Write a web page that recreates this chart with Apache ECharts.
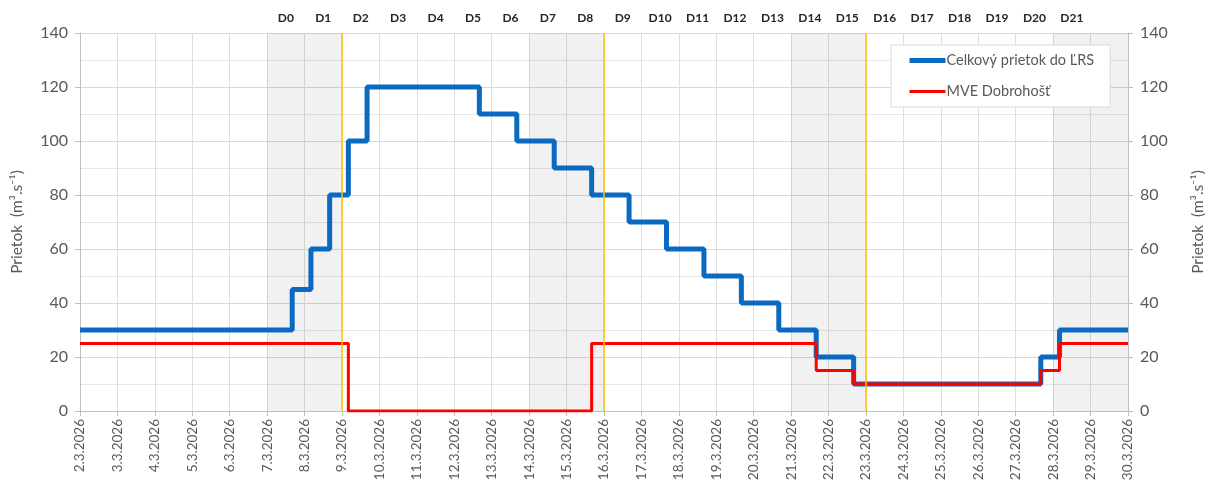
<!DOCTYPE html>
<html>
<head>
<meta charset="utf-8">
<script src="https://cdn.jsdelivr.net/npm/echarts@6/dist/echarts.min.js"></script>
<style>
  html, body { margin: 0; padding: 0; background: #fff; }
  #chart { width: 1219px; height: 489px; }
</style>
</head>
<body>
<div id="chart"></div>
<script>
// dátumy na osi x (deň 0 = 2.3.2026)
const dateLabels = [
  '2.3.2026', '3.3.2026', '4.3.2026', '5.3.2026', '6.3.2026', '7.3.2026', '8.3.2026',
  '9.3.2026', '10.3.2026', '11.3.2026', '12.3.2026', '13.3.2026', '14.3.2026', '15.3.2026',
  '16.3.2026', '17.3.2026', '18.3.2026', '19.3.2026', '20.3.2026', '21.3.2026', '22.3.2026',
  '23.3.2026', '24.3.2026', '25.3.2026', '26.3.2026', '27.3.2026', '28.3.2026', '29.3.2026',
  '30.3.2026'
]
// označenie dní hore (jedno na každý deň)
const dayLabels = [
  '', '', '', '', '', 'D0', 'D1', 'D2', 'D3', 'D4', 'D5', 'D6', 'D7', 'D8', 'D9',
  'D10', 'D11', 'D12', 'D13', 'D14', 'D15', 'D16', 'D17', 'D18', 'D19', 'D20', 'D21', ''
]

// Celkový prietok do ĽRS - body zmeny (deň) a hodnoty
const flowDays = [0, 5.67, 6.17, 6.67, 7.17, 7.67, 10.67, 11.67, 12.67, 13.67, 14.67,
  15.67, 16.67, 17.67, 18.67, 19.67, 20.67, 25.67, 26.17, 28]
const flowValues = [30, 45, 60, 80, 100, 120, 110, 100, 90, 80, 70,
  60, 50, 40, 30, 20, 10, 20, 30, 30]

// MVE Dobrohošť
const mveDays = [0, 7.17, 13.67, 19.67, 20.67, 25.67, 26.17, 28]
const mveValues = [25, 0, 25, 15, 10, 15, 25, 25]

// víkendy (šedé pásy) a pondelky (žlté čiary)
const weekends = [[5, 7], [12, 14], [19, 21], [26, 28]]
const mondays = [7, 14, 21]

const yTicks = { min: 0, max: 140, interval: 20 }

const font = 'Lato, "Open Sans", sans-serif'
const gray = '#595959'
const blue = '#0a6ac2'
const red = '#ff0000'

const chart = echarts.init(document.getElementById('chart'))

chart.setOption({
  animation: false,
  textStyle: { fontFamily: font },
  grid: { left: 80, right: 91, top: 33, bottom: 78 },
  legend: {
    orient: 'vertical',
    left: 891,
    top: 45,
    padding: [8, 16, 8, 16],
    itemGap: 16,
    itemWidth: 36,
    itemHeight: 14,
    backgroundColor: '#fff',
    borderColor: '#d9d9d9',
    borderWidth: 1,
    itemStyle: { opacity: 0 },
    textStyle: { color: gray, fontSize: 14.5, fontFamily: font, padding: [0, 0, 0, -4] },
    data: [
      { name: 'Celkový prietok do ĽRS', lineStyle: { width: 5, color: blue } },
      { name: 'MVE Dobrohošť', lineStyle: { width: 3, color: red } }
    ]
  },
  xAxis: [
    {
      type: 'value',
      min: 0,
      max: dateLabels.length - 1,
      interval: 1,
      axisLine: { show: true, lineStyle: { color: '#bfbfbf' } },
      axisTick: { show: true, length: 5, lineStyle: { color: '#bfbfbf' } },
      axisLabel: {
        rotate: 90,
        color: gray,
        fontSize: 13.5,
        margin: 8,
        formatter: v => dateLabels[v] || ''
      },
      splitLine: { show: true, lineStyle: { color: '#dedede' } }
    },
    {
      type: 'category',
      position: 'top',
      data: dayLabels,
      boundaryGap: true,
      axisLine: { show: false },
      axisTick: { show: false },
      splitLine: { show: false },
      axisLabel: { interval: 0, color: '#262626', fontSize: 12, fontWeight: 'bold', margin: 9 }
    }
  ],
  yAxis: [
    {
      type: 'value',
      ...yTicks,
      name: 'Prietok  (m³.s⁻¹)',
      nameLocation: 'middle',
      nameGap: 55,
      nameTextStyle: { color: gray, fontSize: 15.5 },
      axisLine: { show: true, lineStyle: { color: '#bfbfbf' } },
      axisTick: { show: true, length: 5, lineStyle: { color: '#bfbfbf' } },
      axisLabel: { color: gray, fontSize: 16, margin: 12 },
      splitLine: { show: true, lineStyle: { color: '#d9d9d9' } },
      minorTick: { show: false, splitNumber: 2 },
      minorSplitLine: { show: true, lineStyle: { color: '#e6e6e6' } }
    },
    {
      type: 'value',
      ...yTicks,
      position: 'right',
      name: 'Prietok  (m³.s⁻¹)',
      nameLocation: 'middle',
      nameGap: 62,
      nameRotate: 90,
      nameTextStyle: { color: gray, fontSize: 15.5 },
      axisLine: { show: true, lineStyle: { color: '#bfbfbf' } },
      axisTick: { show: true, length: 5, lineStyle: { color: '#bfbfbf' } },
      axisLabel: { color: gray, fontSize: 16, margin: 12 },
      splitLine: { show: false }
    }
  ],
  series: [
    {
      name: 'Celkový prietok do ĽRS',
      type: 'line',
      step: 'end',
      symbol: 'none',
      color: blue,
      lineStyle: { width: 5, color: blue },
      data: flowDays.map((d, i) => [d, flowValues[i]]),
      markArea: {
        silent: true,
        itemStyle: { color: 'rgba(0,0,0,0.055)' },
        data: weekends.map(w => [{ xAxis: w[0] }, { xAxis: w[1] }])
      },
      markLine: {
        silent: true,
        symbol: 'none',
        label: { show: false },
        lineStyle: { color: '#ffc000', width: 1.5, type: 'solid' },
        data: mondays.map(d => ({ xAxis: d }))
      },
      z: 3
    },
    {
      name: 'MVE Dobrohošť',
      type: 'line',
      step: 'end',
      symbol: 'none',
      color: red,
      lineStyle: { width: 3, color: red },
      data: mveDays.map((d, i) => [d, mveValues[i]]),
      z: 4
    }
  ]
})
</script>
</body>
</html>
